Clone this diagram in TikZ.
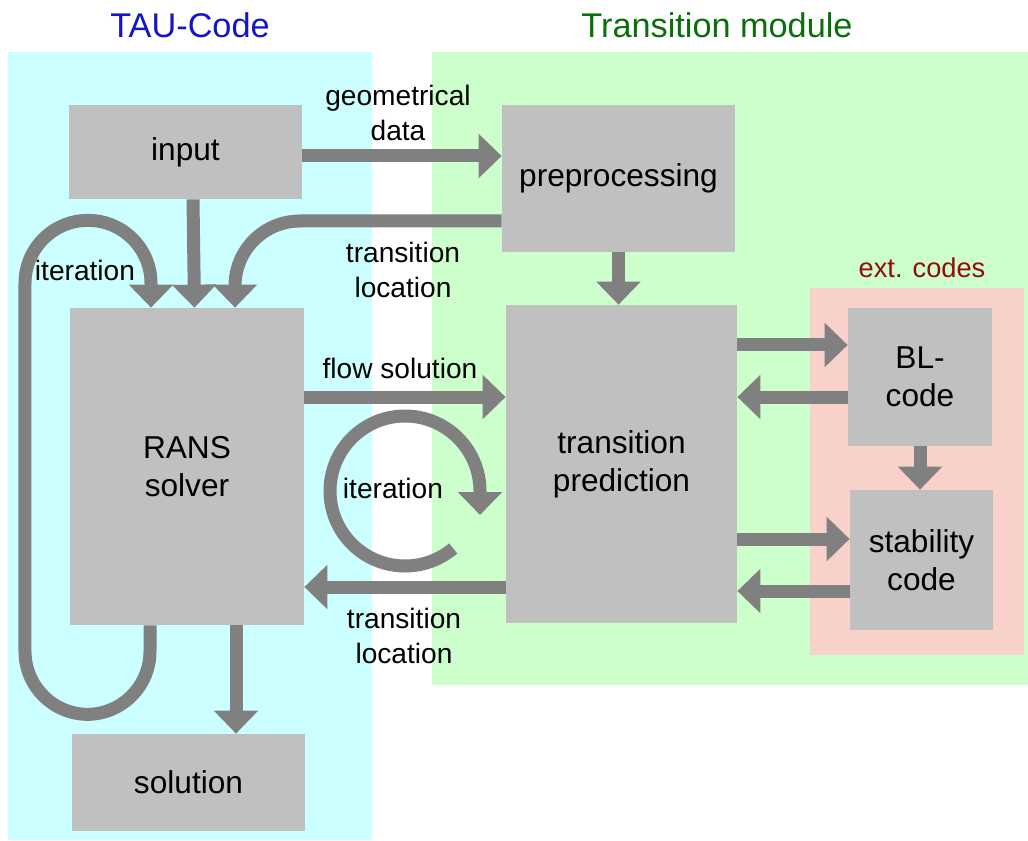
\documentclass[tikz,border=0pt]{standalone}
\usepackage{fontspec}
\setmainfont{Liberation Sans}
\usetikzlibrary{arrows.meta}

\definecolor{taubg}{RGB}{204,255,255}
\definecolor{modbg}{RGB}{204,255,204}
\definecolor{extbg}{RGB}{248,210,202}
\definecolor{boxgray}{RGB}{192,192,192}
\definecolor{flowgray}{RGB}{128,128,128}
\definecolor{taublue}{RGB}{20,20,200}
\definecolor{modgreen}{RGB}{10,110,10}
\definecolor{extred}{RGB}{150,10,10}

\tikzset{
  box/.style={fill=boxgray, inner sep=0pt, align=center,
    font=\fontsize{18}{21.6}\selectfont},
  flow/.style={draw=flowgray, line width=2.6mm,
    -{Triangle[width=8.6mm, length=4.6mm]}},
  lbl/.style={align=center, font=\fontsize{16}{19.5}\selectfont},
  title/.style={font=\fontsize{19.5}{23}\selectfont}
}

\begin{document}
\begin{tikzpicture}[x=0.2mm, y=0.2mm]
  \useasboundingbox (0,0) rectangle (1028,-840);

  \fill[taubg] (8,-52) rectangle (372,-840);
  \fill[modbg] (432,-52) rectangle (1028,-685);
  \fill[extbg] (810,-288) rectangle (1024,-655);

  \node[title, text=taublue] (tau) at (190,-25) {TAU-Code};
  \node[title, text=modgreen] (tmod) at (717,-25) {Transition module};
  \node[lbl, text=extred, font=\fontsize{15.5}{18}\selectfont] (ext) at (922,-268) {ext. codes};

  \node[box, minimum width=46.6mm, minimum height=18.8mm] (input) at (185.5,-152) {input};
  \node[box, minimum width=46.6mm, minimum height=29.4mm] (prep) at (618.5,-178.5) {preprocessing};
  \node[box, minimum width=46.8mm, minimum height=63.4mm] (rans) at (187,-466.5) {RANS\\solver};
  \node[box, minimum width=46.2mm, minimum height=63.6mm] (pred) at (621.5,-464) {transition\\prediction};
  \node[box, minimum width=28.8mm, minimum height=27.6mm] (blcode) at (920,-377) {BL-\\code};
  \node[box, minimum width=28.6mm, minimum height=28mm] (stab) at (921.5,-560) {stability\\code};
  \node[box, minimum width=46.6mm, minimum height=19.4mm] (sol) at (188.5,-782.5) {solution};

  \node[lbl] (geolbl) at (398,-113) {geometrical\\data};
  \node[lbl] (loclbl) at (403,-270) {transition\\location};
  \node[lbl] (flowlbl) at (400,-368) {flow solution};
  \node[lbl] (iterlbl) at (85,-270) {iteration};
  \node[lbl] (cyclbl) at (393,-488) {iteration};
  \node[lbl] (backlbl) at (404,-636) {transition\\location};
  \coordinate (cyc) at (405,-491);

  \draw[flow] ([yshift=-0.8mm]input.east) -- ([yshift=-0.8mm]input.east -| prep.west);
  \draw[flow] ([xshift=1.5mm]input.south) -- ([xshift=1.5mm]rans.north);
  \draw[flow, rounded corners=13mm] ([yshift=-8.5mm]prep.west) -| ([xshift=9.6mm]rans.north);
  \draw[flow, rounded corners=12.6mm] ([xshift=-7.4mm]rans.south) -- ++(0,-17.8mm)
    -- ++(-25mm,0) -- ++(0,98.8mm) -- ++(25.2mm,0) -- ([xshift=-7.2mm]rans.north);
  \draw[flow] (prep.south) -- (prep.south |- pred.north);
  \draw[flow] ([yshift=13.9mm]rans.east) -- ([yshift=13.9mm]rans.east -| pred.west);
  \draw[flow] ([shift={(-50:15mm)}]cyc) arc[start angle=-50, end angle=-360, radius=15mm]
    -- ++(0,-4.8mm);
  \draw[flow] ([yshift=-24.6mm]pred.west) -- ([yshift=-24.6mm]pred.west -| rans.east);
  \draw[flow] ([xshift=9.8mm]rans.south) -- ([xshift=9.8mm]rans.south |- sol.north);

  \draw[flow] ([yshift=23.8mm]pred.east) -- ([yshift=23.8mm]pred.east -| blcode.west);
  \draw[flow] ([yshift=13.4mm]pred.east -| blcode.west) -- ([yshift=13.4mm]pred.east);
  \draw[flow] (blcode.south) -- (blcode.south |- stab.north);
  \draw[flow] ([yshift=-15mm]pred.east) -- ([yshift=-15mm]pred.east -| stab.west);
  \draw[flow] ([yshift=-25.4mm]pred.east -| stab.west) -- ([yshift=-25.4mm]pred.east);
\end{tikzpicture}
\end{document}
